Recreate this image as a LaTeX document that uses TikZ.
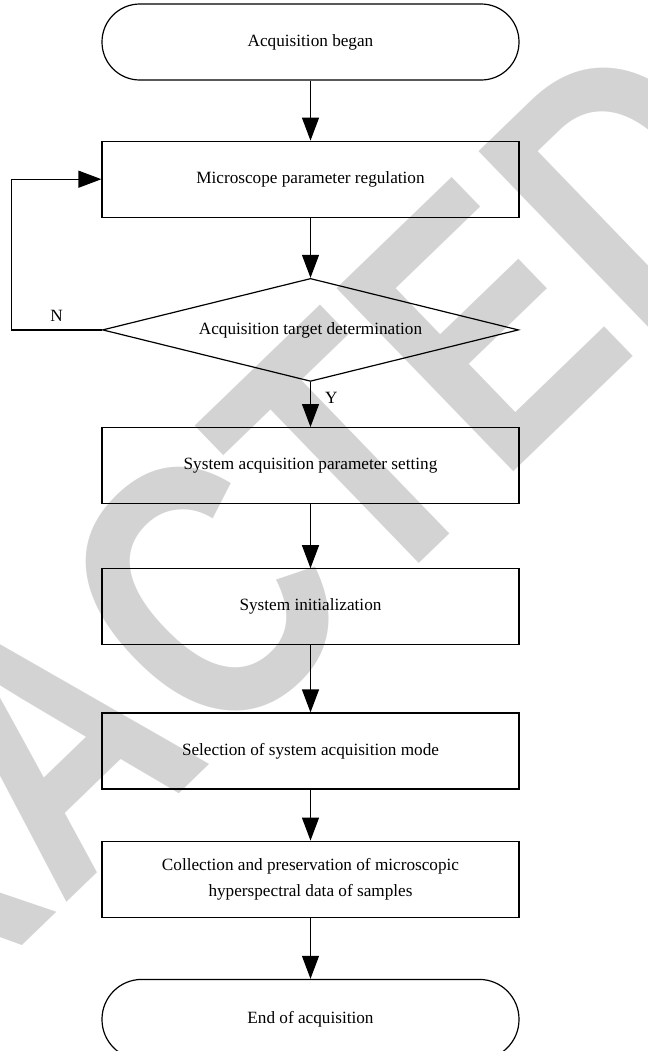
\documentclass[tikz,border=0pt]{standalone}
\usepackage{fontspec}
\setmainfont{Liberation Serif}
\newfontfamily\markfont{Liberation Sans}
\usepackage{graphicx}
\usepackage{tikz}
\usetikzlibrary{positioning,shapes.geometric,arrows.meta}
\definecolor{wmgray}{RGB}{211,211,211}

\begin{document}
\begin{tikzpicture}[
  font=\fontsize{8.6}{13}\selectfont,
  every node/.style={inner sep=2pt},
  proc/.style={draw,line width=0.6pt,minimum width=208.5pt,minimum height=38pt,align=center},
  term/.style={proc,rounded corners=18.9pt},
  decide/.style={draw,line width=0.6pt,diamond,aspect=4,minimum width=208pt,minimum height=51.5pt,inner sep=0pt},
  flow/.style={line width=0.6pt,-{Triangle[length=11.5pt,width=8.5pt]}}
]
\useasboundingbox (0,0) rectangle (324pt,-525.5pt);
% watermark
\begin{scope}
\clip (0,0) rectangle (324pt,-525.5pt);
\node (mark)[rotate=44,text=wmgray,inner sep=0pt,font=\markfont\bfseries\fontsize{185}{185}\selectfont] at (25pt,-371pt){\scalebox{0.8}[1]{RETRACTED}};
\end{scope}

\node (start)[term] at (155.25pt,-21pt){Acquisition began};
\node (regulate)[proc,below=30pt of start]{Microscope parameter regulation};
\node (target)[decide,below=30pt of regulate]{Acquisition target determination};
\node (setting)[proc,below=22.5pt of target]{System acquisition parameter setting};
\node (init)[proc,below=32pt of setting]{System initialization};
\node (mode)[proc,below=33.5pt of init]{Selection of system acquisition mode};
\node (collect)[proc,below=25.5pt of mode]{Collection and preservation of microscopic\\
	hyperspectral data of samples};
\node (finish)[term,minimum height=40pt,rounded corners=19.9pt,below=30.5pt of collect]{End of acquisition};
\coordinate (back) at ([xshift=-45.2pt]target.west);

% draw the connections
\draw[flow] (start)--(regulate);
\draw[flow] (regulate)--(target);
\draw[flow] (target)--node[pos=0.35,right=5pt]{Y}(setting);
\draw[flow] (target.west)--node[above=2pt]{N}(back)|-(regulate.west);
\draw[flow] (setting)--(init);
\draw[flow] (init)--(mode);
\draw[flow] (mode)--(collect);
\draw[flow] (collect)--(finish);
\end{tikzpicture}
\end{document}
